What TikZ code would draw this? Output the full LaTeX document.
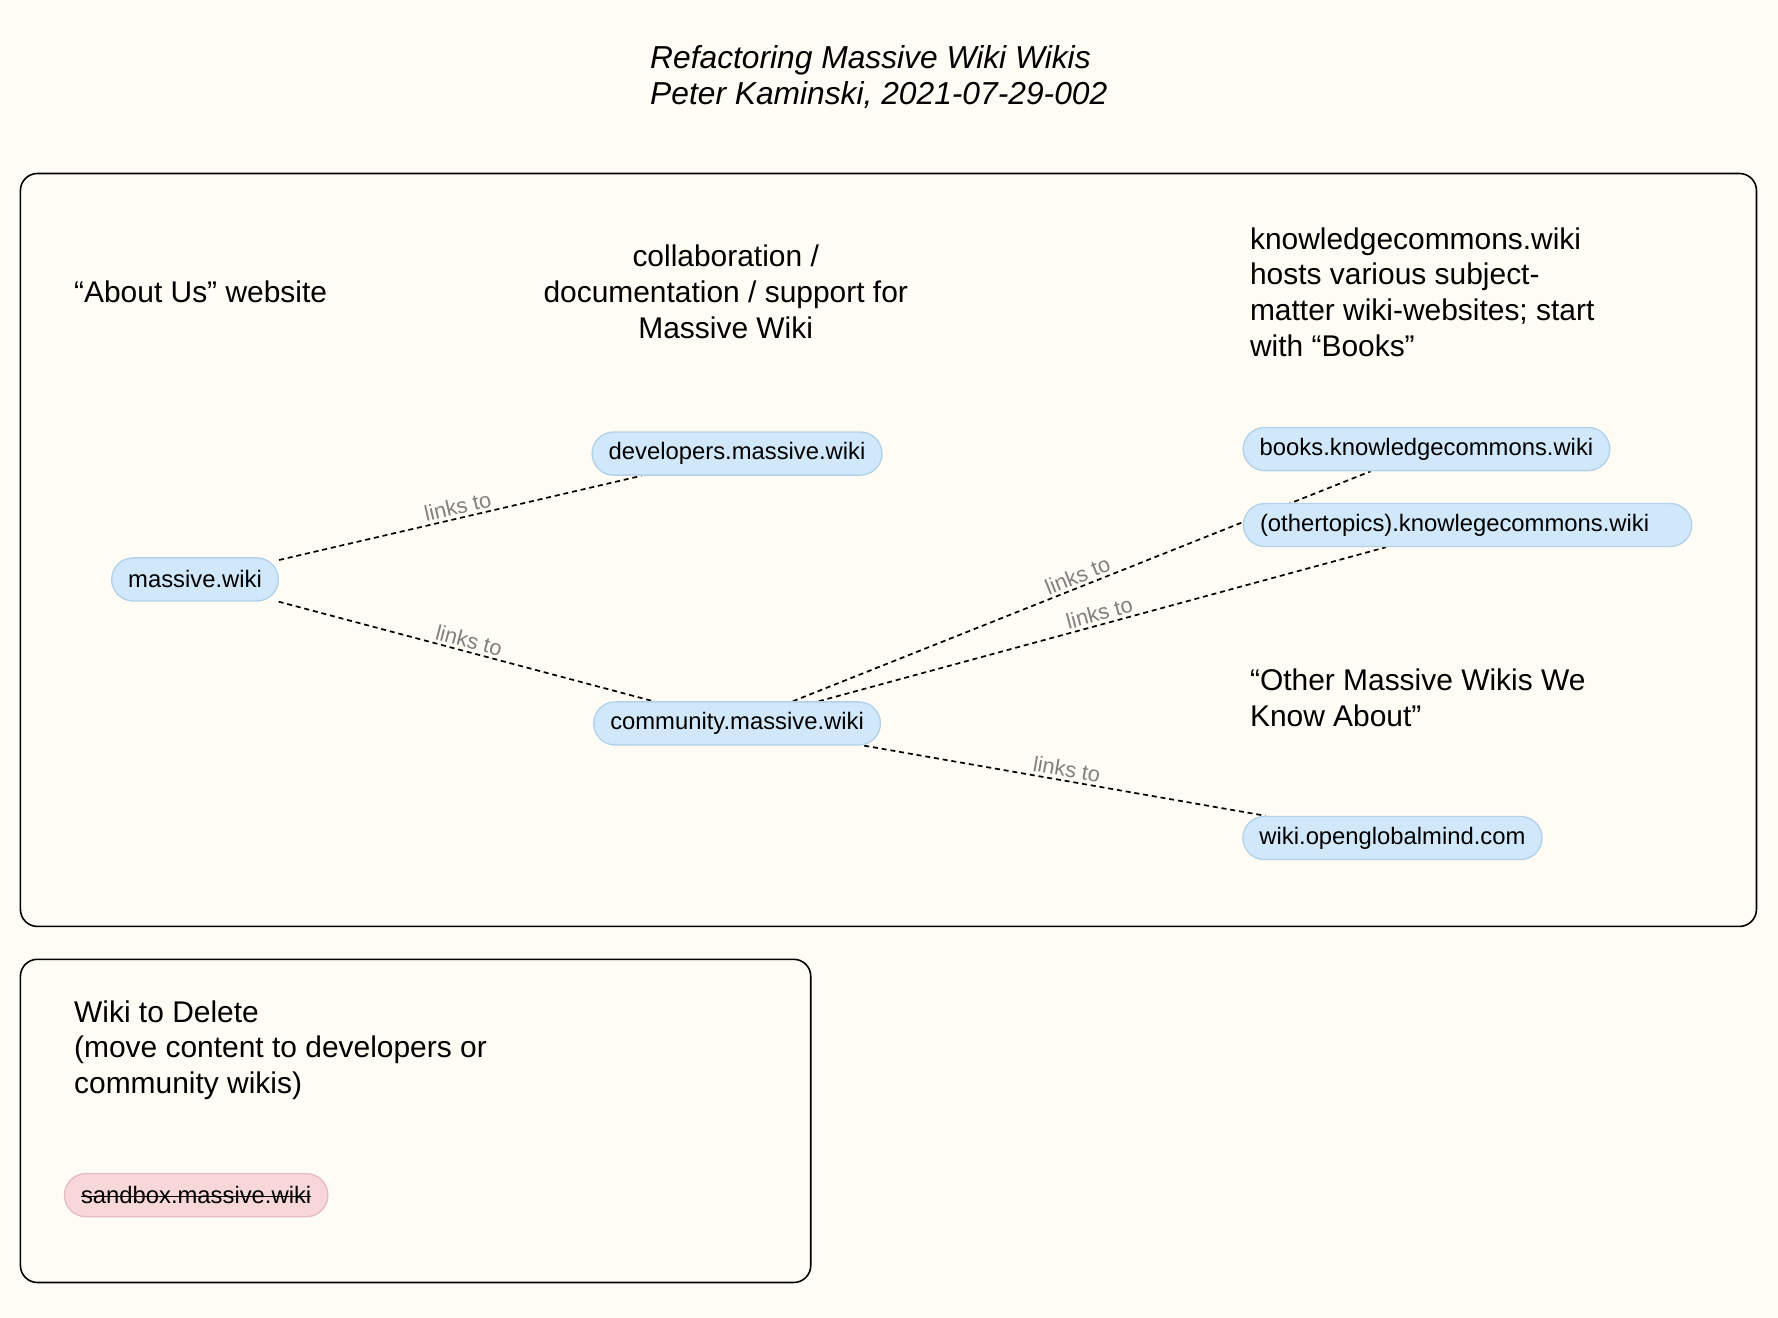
\documentclass[tikz,border=0pt]{standalone}
\usepackage{fontspec}
\setmainfont{Liberation Sans}
\definecolor{bgcol}{HTML}{FFFCF5}
\definecolor{bluefill}{HTML}{D0E8FA}
\definecolor{blueline}{HTML}{B3D2EA}
\definecolor{pinkfill}{HTML}{F8D7D9}
\definecolor{pinkline}{HTML}{E4BEC1}
\definecolor{lblgray}{HTML}{808080}
\newcommand{\strikeit}[1]{\setbox0\hbox{#1}\rlap{\rule[0.27em]{\wd0}{0.6pt}}\box0}
\pgfdeclarelayer{bglayer}
\pgfdeclarelayer{edgelayer}
\pgfsetlayers{bglayer,edgelayer,main}
\begin{document}
\begin{tikzpicture}[x=0.5pt,y=-0.5pt,
  wiki/.style={draw=blueline, fill=bluefill, line width=0.6pt, rounded corners=9.5pt,
    minimum height=19pt, inner xsep=7.3pt, inner ysep=0pt, font=\fontsize{10.5}{12}\selectfont},
  delwiki/.style={wiki, draw=pinkline, fill=pinkfill},
  frame/.style={draw=black, line width=0.7pt, rounded corners=7.5pt},
  link/.style={draw=black, line width=0.75pt, dash pattern=on 2.2pt off 1.7pt},
  lbl/.style={midway, sloped, above, inner sep=1.2pt, text=lblgray, font=\fontsize{9.6}{11}\selectfont},
  txt/.style={inner sep=0pt, font=\fontsize{13.2}{15.8}\selectfont},
  ttl/.style={inner sep=0pt, font=\fontsize{14}{16}\selectfont\itshape}]
\begin{pgfonlayer}{bglayer}
\fill[bgcol] (0,0) rectangle (1568,1162);
\end{pgfonlayer}
\useasboundingbox (0,0) rectangle (1568,1162);

% title (anchor = baseline of last line)
\node[ttl, anchor=base west, align=left] (title) at (573,92) {Refactoring Massive Wiki Wikis\\Peter Kaminski, 2021-07-29-002};

% frames
\draw[frame] (18,153) rectangle (1549,817);
\draw[frame] (18,846) rectangle (715,1131);

% texts
\node[txt, anchor=base west] (about) at (65,266.5) {“About Us” website};
\node[txt, anchor=base, align=center] (collab) at (640,298.5) {collaboration /\\documentation / support for\\Massive Wiki};
\node[txt, anchor=base west, align=left] (kc) at (1102,314.5) {knowledgecommons.wiki\\hosts various subject-\\matter wiki-websites; start\\with “Books”};
\node[txt, anchor=base west, align=left] (otherlbl) at (1102,640.5) {“Other Massive Wikis We\\Know About”};
\node[txt, anchor=base west, align=left] (del) at (65,964.5) {Wiki to Delete\\(move content to developers or\\community wikis)};

% wiki nodes
\node[wiki] (dev) at (650,400) {developers.massive.wiki};
\node[wiki] (mw) at (172,511) {massive.wiki};
\node[wiki] (comm) at (650,638) {community.massive.wiki};
\node[wiki] (books) at (1258,396) {books.knowledgecommons.wiki};
\node[wiki, anchor=west] (other) at (1096,463) {(othertopics).knowlegecommons.wiki\rule{11.5pt}{0pt}};
\node[wiki] (ogm) at (1228,739) {wiki.openglobalmind.com};
\node[delwiki] (sand) at (173,1054) {\strikeit{sandbox.massive.wiki}};

% connectors
\begin{pgfonlayer}{edgelayer}
\draw[link] (mw) -- node[lbl] {links to} (dev);
\draw[link] (mw) -- node[lbl] {links to} (comm);
\draw[link] (comm) -- node[lbl] {links to} (books);
\draw[link] (comm) -- node[lbl] {links to} (other);
\draw[link] (comm) -- node[lbl] {links to} (ogm);
\end{pgfonlayer}
\end{tikzpicture}
\end{document}
